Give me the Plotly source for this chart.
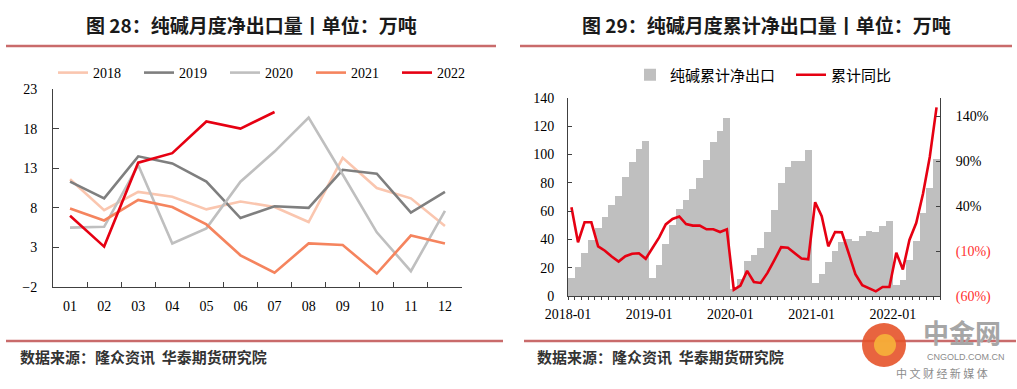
import plotly.graph_objects as go
import pandas as pd

W, H = 1017, 389

# ---------------- data: left chart (monthly net export, 万吨) ----------------
month_labels = ['01', '02', '03', '04', '05', '06', '07', '08', '09', '10', '11', '12']
y2018 = [11.6, 7.7, 10.0, 9.4, 7.8, 8.8, 8.1, 6.2, 14.3, 10.5, 9.2, 5.7]
y2019 = [11.3, 9.2, 14.5, 13.6, 11.3, 6.7, 8.2, 8.0, 12.8, 12.3, 7.4, 10.0]
y2020 = [5.5, 5.6, 13.4, 3.5, 5.4, 11.3, 15.1, 19.4, 12.2, 4.9, 0.0, 7.6]
y2021 = [7.9, 6.4, 9.0, 8.1, 5.9, 2.0, -0.2, 3.5, 3.3, -0.3, 4.5, 3.5]
y2022 = [7.0, 3.1, 13.7, 14.9, 18.9, 18.0, 20.1]

# ---------------- data: right chart (cumulative net export & YoY) ----------------
cum_months = pd.date_range('2018-01-01', periods=55, freq='MS')
cum_export = [13.0, 20.8, 30.7, 39.7, 47.9, 56.2, 64.4, 70.4, 84.4, 95.1, 103.8, 109.7,
              12.5, 22.0, 36.6, 50.3, 61.6, 68.0, 75.8, 83.6, 96.4, 108.6, 116.4, 125.7,
              5.0, 11.8, 25.0, 29.0, 34.2, 45.5, 60.8, 79.7, 91.5, 95.6, 95.6, 103.5,
              9.4, 15.3, 24.3, 32.1, 38.4, 40.1, 39.1, 42.7, 46.2, 45.5, 49.7, 53.3,
              7.8, 11.3, 25.2, 39.1, 58.5, 76.7, 96.6]
cum_yoy = [38.6, -0.3, 21.9, 21.9, -4.8, -9.7, -16.2, -21.7, -15.8, -13.1, -12.5, -18.6,
           -6.4, 5.1, 19.6, 25.6, 28.4, 20.0, 18.2, 18.2, 14.1, 14.1, 11.1, 14.1,
           -53.0, -48.4, -32.1, -44.4, -45.5, -34.3, -20.5, -5.7, -6.4, -12.2, -18.4, -19.2,
           44.2, 28.7, -4.8, 11.1, 10.7, -12.2, -35.8, -47.9, -51.4, -54.8, -50.0, -50.0,
           -12.0, -30.6, 2.3, 21.0, 53.5, 94.4, 149.6]
yoy_tickvals = [-60, -10, 40, 90, 140]
yoy_ticktext = ['<span style="color:#FF3030">(60%)</span>', '<span style="color:#FF3030">(10%)</span>',
                '40%', '90%', '140%']

# ---------------- styles ----------------
SERIF = 'Liberation Serif'
CJK = 'Noto Sans CJK SC'
AXIS_COL = '#404040'
RULE_COL = '#C96B6B'

def px(x):
    return x / W

def py(y):
    return 1 - y / H

fig = go.Figure()

left_series = [('2018', y2018, '#FAC6AF'), ('2019', y2019, '#7F7F7F'), ('2020', y2020, '#BFBFBF'),
               ('2021', y2021, '#F5845E'), ('2022', y2022, '#E60012')]
for name, vals, col in left_series:
    fig.add_trace(go.Scatter(x=month_labels[:len(vals)], y=vals, name=name, mode='lines',
                             line=dict(color=col, width=2.6), xaxis='x', yaxis='y',
                             legend='legend', hoverinfo='skip'))

widths = [d * 86400000 for d in cum_months.days_in_month]
fig.add_trace(go.Bar(x=cum_months, y=cum_export, name='纯碱累计净出口', marker_color='#BFBFBF',
                     marker_line_width=0, width=widths, xperiod='M1', xperiodalignment='middle',
                     xaxis='x2', yaxis='y2', legend='legend2', hoverinfo='skip'))
fig.add_trace(go.Scatter(x=cum_months, y=cum_yoy, name='累计同比', mode='lines',
                         line=dict(color='#E60012', width=2.6), xperiod='M1', xperiodalignment='middle',
                         xaxis='x2', yaxis='y3', legend='legend2', hoverinfo='skip'))

tickfont = dict(family=SERIF, size=14, color='#000000')

fig.update_layout(
    template='none',
    width=W, height=H, margin=dict(l=0, r=0, t=0, b=0, autoexpand=False),
    paper_bgcolor='white', plot_bgcolor='white',
    showlegend=True, bargap=0,
    xaxis=dict(domain=[px(53), px(462)], anchor='y', type='category', range=[-0.5, 11.5],
               automargin=False,
               showline=True, linecolor=AXIS_COL, linewidth=1, showgrid=False, zeroline=False,
               ticks='inside', ticklen=5, tickcolor=AXIS_COL, tickson='boundaries',
               tickfont=tickfont, ticklabelstandoff=6),
    yaxis=dict(domain=[py(287), py(89)], anchor='x', range=[-2, 23], tick0=-2, dtick=5,
               automargin=False,
               showline=True, linecolor=AXIS_COL, linewidth=1, showgrid=False, zeroline=False,
               ticks='inside', ticklen=6, tickcolor=AXIS_COL, tickfont=tickfont,
               ticklabelstandoff=12),
    xaxis2=dict(domain=[px(568), px(940)], anchor='y2', type='date',
                range=['2018-01-01', '2022-08-01'], tick0='2018-01-01', dtick='M12',
                tickformat='%Y-%m', automargin=False,
                showline=True, linecolor=AXIS_COL, linewidth=1,
                showgrid=False, zeroline=False, ticks='outside', ticklen=3, tickcolor=AXIS_COL,
                minor=dict(dtick='M1', tick0='2018-01-01', ticks='outside', ticklen=3,
                           tickcolor=AXIS_COL, showgrid=False),
                tickfont=tickfont, ticklabelstandoff=2),
    yaxis2=dict(domain=[py(296), py(98)], anchor='x2', range=[0, 140], dtick=20,
                automargin=False,
                showline=True, linecolor=AXIS_COL, linewidth=1, showgrid=False, zeroline=False,
                ticks='inside', ticklen=4, tickcolor=AXIS_COL, tickfont=tickfont,
                ticklabelstandoff=10),
    yaxis3=dict(overlaying='y2', anchor='x2', side='right', range=[-60, 160],
                tickvals=yoy_tickvals, ticktext=yoy_ticktext, automargin=False,
                showline=True, linecolor=AXIS_COL, linewidth=1, showgrid=False, zeroline=False,
                ticks='inside', ticklen=4, tickcolor=AXIS_COL, tickfont=tickfont,
                ticklabelstandoff=12),
    legend=dict(orientation='h', x=px(53), y=py(73), xanchor='left', yanchor='middle',
                font=dict(family=SERIF, size=14, color='#000'), entrywidth=41,
                bgcolor='rgba(0,0,0,0)', itemclick=False, itemdoubleclick=False,
                tracegroupgap=0),
    legend2=dict(orientation='h', x=px(630), y=py(75), xanchor='left', yanchor='middle',
                 font=dict(family=CJK, size=15, color='#000'), entrywidth=116,
                 bgcolor='rgba(0,0,0,0)', itemclick=False, itemdoubleclick=False),
)

def note(x, y, text, font, xanchor='center'):
    fig.add_annotation(x=px(x), y=py(y), xref='paper', yref='paper', showarrow=False,
                       xanchor=xanchor, yanchor='middle', text=text, font=font)

# titles
note(251, 25, '<b>图 28：纯碱月度净出口量丨单位：万吨</b>', dict(family=CJK, size=19, color='#1A1A1A'))
note(766, 25, '<b>图 29：纯碱月度累计净出口量丨单位：万吨</b>', dict(family=CJK, size=19, color='#1A1A1A'))

# rules
for x0, x1, y in [(6, 496, 46), (520, 1012, 46), (6, 503, 341), (524, 1016, 341)]:
    fig.add_shape(type='line', xref='paper', yref='paper', x0=px(x0), x1=px(x1),
                  y0=py(y), y1=py(y), line=dict(color=RULE_COL, width=2.5))

# footers
for x in (18, 535):
    note(x, 356, '<b>数据来源：隆众资讯  华泰期货研究院</b>',
         dict(family=CJK, size=15, color='#333333'), xanchor='left')

# watermark
fig.add_shape(type='circle', xref='paper', yref='paper', x0=px(862), x1=px(906),
              y0=py(367), y1=py(323), fillcolor='#E5532A', line=dict(width=0), opacity=0.9)
fig.add_shape(type='circle', xref='paper', yref='paper', x0=px(874), x1=px(896),
              y0=py(356), y1=py(334), fillcolor='#F6B33A', line=dict(width=0), opacity=0.9)
note(962, 331, '<b>中金网</b>', dict(family=CJK, size=26, color='#A6A6A6'))
note(966, 357, 'CNGOLD.COM.CN', dict(family='Liberation Sans', size=9, color='#8C8C8C'))
note(942, 373, '中 文 财 经 新 媒 体', dict(family=CJK, size=11, color='#8C8C8C'))

fig.write_html('out.html', config={'displayModeBar': False},
               post_script="document.body.style.margin='0px';document.body.style.overflow='hidden';")
